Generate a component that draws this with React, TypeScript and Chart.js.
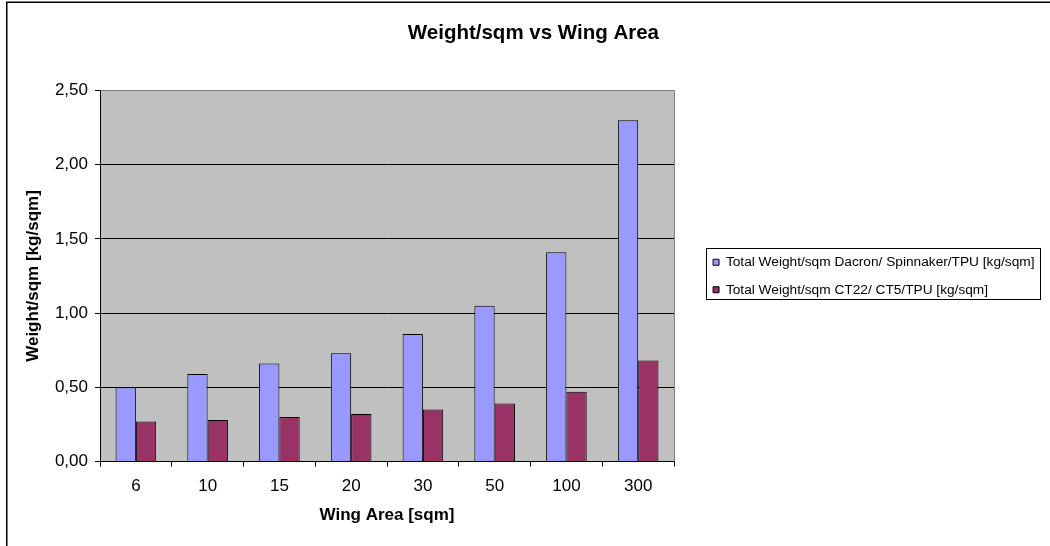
import React, { useEffect, useRef } from 'react';
import { Chart, registerables } from 'chart.js';

Chart.register(...registerables);

const categories = ['6', '10', '15', '20', '30', '50', '100', '300'];
const dacronValues = [0.5, 0.59, 0.66, 0.73, 0.86, 1.05, 1.41, 2.3];
const ct22Values = [0.27, 0.28, 0.3, 0.32, 0.35, 0.39, 0.47, 0.68];
const seriesLabels = [
  'Total Weight/sqm Dacron/ Spinnaker/TPU [kg/sqm]',
  'Total Weight/sqm CT22/ CT5/TPU [kg/sqm]',
];
const seriesColors = ['#9999FF', '#993366'];
const yMin = 0;
const yMax = 2.5;
const yStep = 0.5;
const chartTitle = 'Weight/sqm vs Wing Area';
const xTitle = 'Wing Area [sqm]';
const yTitle = 'Weight/sqm [kg/sqm]';

const FONT = '"Liberation Sans", Arial, sans-serif';

const align = (p: number) => Math.round(p - 0.5) + 0.5;

const decorPlugin = {
  id: 'decor',
  beforeDraw(chart: any) {
    const { ctx, chartArea: a } = chart;
    ctx.save();
    ctx.fillStyle = '#C0C0C0';
    ctx.fillRect(a.left, a.top, a.right - a.left, a.bottom - a.top);
    ctx.restore();
  },
  beforeDatasetsDraw(chart: any) {
    const { ctx, chartArea: a } = chart;
    ctx.save();
    ctx.strokeStyle = '#808080';
    ctx.lineWidth = 1;
    ctx.beginPath();
    ctx.moveTo(align(a.left), align(a.top));
    ctx.lineTo(align(a.right), align(a.top));
    ctx.lineTo(align(a.right), align(a.bottom));
    ctx.stroke();
    ctx.restore();
  },
  afterDraw(chart: any) {
    const { ctx } = chart;
    ctx.save();
    ctx.strokeStyle = '#000';
    ctx.lineWidth = 1.5;
    ctx.beginPath();
    ctx.moveTo(6.75, chart.height + 2);
    ctx.lineTo(6.75, 2.25);
    ctx.lineTo(chart.width + 2, 2.25);
    ctx.stroke();

    const lg = chart.legend;
    const hb = lg && lg.legendHitBoxes;
    if (hb && hb.length) {
      const first = hb[0];
      const last = hb[hb.length - 1];
      const w = Math.max(...hb.map((h: any) => h.width));
      const left = align(first.left - 6.3);
      const top = align(first.top - 6.9);
      const right = align(first.left + w + 5.5);
      const bottom = align(last.top + last.height + 2.5);
      ctx.lineWidth = 1;
      ctx.strokeRect(left, top, right - left, bottom - top);
    }
    ctx.restore();
  },
};

export default function App() {
  const canvasRef = useRef<HTMLCanvasElement | null>(null);

  useEffect(() => {
    if (!canvasRef.current) return;
    Chart.defaults.font.family = FONT;
    Chart.defaults.color = '#000';
    const chart = new Chart(canvasRef.current, {
      type: 'bar',
      data: {
        labels: categories,
        datasets: [
          {
            label: seriesLabels[0],
            data: dacronValues,
            backgroundColor: seriesColors[0],
            borderColor: '#000',
            borderWidth: 1,
            yAxisID: 'y',
          },
          {
            label: seriesLabels[1],
            data: ct22Values,
            backgroundColor: seriesColors[1],
            borderColor: '#000',
            borderWidth: 1,
            yAxisID: 'y',
          },
        ],
      },
      options: {
        animation: false,
        responsive: true,
        maintainAspectRatio: false,
        datasets: {
          bar: { barPercentage: 1, categoryPercentage: 0.566 },
        },
        layout: { padding: { top: 21, left: 22.3, right: 5.5, bottom: 0 } },
        plugins: {
          title: {
            display: true,
            text: chartTitle,
            color: '#000',
            font: { family: FONT, size: 20.5, weight: 'bold' },
            padding: { top: 0, bottom: 44.9 },
          },
          legend: {
            display: true,
            position: 'right',
            align: 'center',
            fullSize: false,
            maxWidth: 420,
            labels: {
              color: '#000',
              font: { family: FONT, size: 13.7 },
              boxWidth: 6,
              boxHeight: 6,
              padding: 13.8,
            },
          },
          tooltip: { enabled: false },
        },
        scales: {
          x: {
            position: 'bottom',
            afterFit: (s: any) => {
              s.height = 84.5;
            },
            grid: {
              display: true,
              drawOnChartArea: false,
              drawTicks: true,
              tickLength: 5,
              color: '#000',
              offset: true,
            },
            border: { display: true, color: '#000', width: 1 },
            ticks: { color: '#000', font: { family: FONT, size: 17 }, padding: 10, maxRotation: 0 },
            title: {
              display: true,
              text: xTitle,
              color: '#000',
              font: { family: FONT, size: 17, weight: 'bold' },
              padding: { top: 0, bottom: 20.8 },
            },
          },
          y: {
            position: 'left',
            min: yMin,
            max: yMax,
            afterFit: (s: any) => {
              s.width = 77.7;
            },
            grid: {
              display: true,
              drawOnChartArea: true,
              drawTicks: true,
              tickLength: 5,
              color: '#000',
            },
            border: { display: true, color: '#000', width: 1 },
            ticks: {
              stepSize: yStep,
              color: '#000',
              font: { family: FONT, size: 17 },
              padding: 7,
              callback: (v: any) => Number(v).toFixed(2).replace('.', ','),
            },
            title: {
              display: true,
              text: yTitle,
              color: '#000',
              font: { family: FONT, size: 17, weight: 'bold' },
              padding: { top: 0.5, bottom: 0 },
            },
          },
          yR: {
            position: 'right',
            display: true,
            afterFit: (s: any) => {
              s.width = 25.2;
            },
            grid: { display: false, drawTicks: false },
            border: { display: false },
            ticks: { display: false },
          },
        },
      },
      plugins: [decorPlugin],
    } as any);
    return () => chart.destroy();
  }, []);

  return (
    <div style={{ position: 'fixed', left: 0, top: 0, width: 1050, height: 546, background: '#fff' }}>
      <canvas ref={canvasRef} />
    </div>
  );
}
